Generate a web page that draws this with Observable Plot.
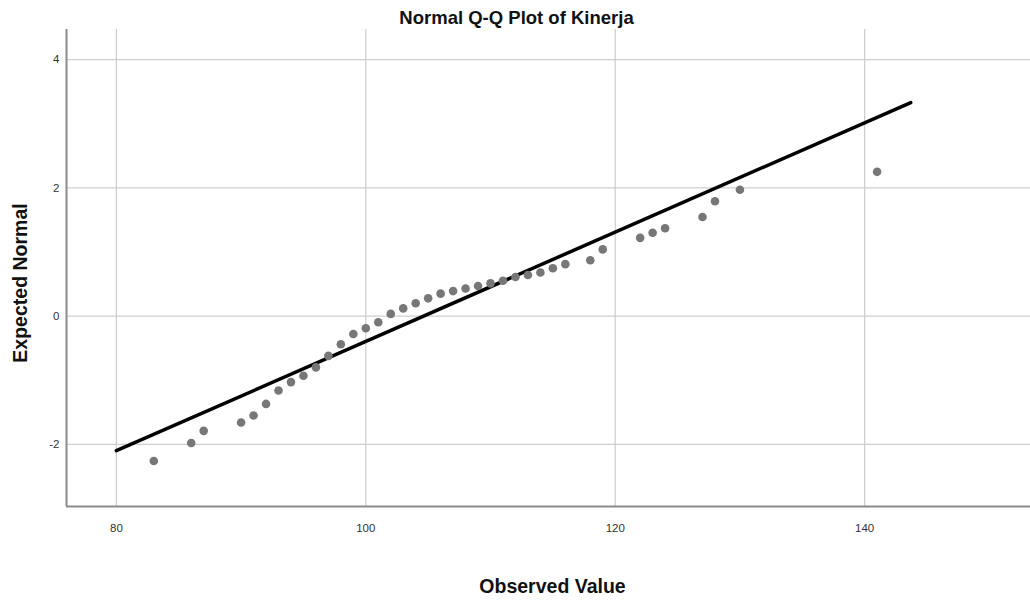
<!DOCTYPE html>
<html>
<head>
<meta charset="utf-8">
<script src="https://cdn.jsdelivr.net/npm/d3@7"></script>
<script src="https://cdn.jsdelivr.net/npm/@observablehq/plot@0.6"></script>
<style>
  body { margin: 0; background: #fff; }
  #chart svg { display: block; }
</style>
</head>
<body>
<div id="chart"></div>
<script>
const title = "Normal Q-Q Plot of Kinerja";
const xLabel = "Observed Value";
const yLabel = "Expected Normal";

const observed = [83, 86, 87, 90, 91, 92, 93, 94, 95, 96, 97, 98, 99, 100, 101, 102, 103, 104, 105, 106, 107, 108, 109, 110, 111, 112, 113, 114, 115, 116, 118, 119, 122, 123, 124, 127, 128, 130, 141];
const expected = [-2.26, -1.98, -1.79, -1.66, -1.55, -1.37, -1.16, -1.03, -0.93, -0.80, -0.62, -0.44, -0.28, -0.19, -0.097, 0.034, 0.12, 0.20, 0.277, 0.35, 0.39, 0.43, 0.47, 0.51, 0.55, 0.61, 0.64, 0.68, 0.745, 0.81, 0.87, 1.04, 1.22, 1.30, 1.37, 1.545, 1.79, 1.97, 2.25];

const refLineX = [80, 143.7];
const refLineY = [-2.1, 3.33];

const xTicks = [80, 100, 120, 140];
const yTicks = [-2, 0, 2, 4];

const points = observed.map((x, i) => ({x, y: expected[i]}));
const refLine = refLineX.map((x, i) => ({x, y: refLineY[i]}));

const xDomain = [76, 153.3];
const yDomain = [-2.97, 4.47];

const font = "'Liberation Sans', Arial, sans-serif";

const chart = Plot.plot({
  width: 1030,
  height: 600,
  marginLeft: 66,
  marginRight: 0,
  marginTop: 29,
  marginBottom: 94,
  style: { fontFamily: font, fontSize: "11.5px", color: "#333", background: "#fff" },
  x: { domain: xDomain, ticks: xTicks, label: null },
  y: { domain: yDomain, ticks: yTicks, label: null },
  marks: [
    Plot.gridX(xTicks, { stroke: "#cdcdcd", strokeOpacity: 1, strokeWidth: 1.2 }),
    Plot.gridY(yTicks, { stroke: "#cdcdcd", strokeOpacity: 1, strokeWidth: 1.2 }),
    Plot.axisX(xTicks, { tickSize: 0, tickPadding: 17, fontSize: 11.5, fill: "#333", tickFormat: d => String(d) }),
    Plot.axisY(yTicks, { tickSize: 0, tickPadding: 7, fontSize: 11.5, fill: "#333", tickFormat: d => String(d) }),
    Plot.ruleX([xDomain[0]], { stroke: "#8a8a8a", strokeWidth: 2 }),
    Plot.ruleY([yDomain[0]], { stroke: "#8a8a8a", strokeWidth: 2 }),
    Plot.line(refLine, { x: "x", y: "y", stroke: "#000", strokeWidth: 3.5 }),
    Plot.dot(points, { x: "x", y: "y", r: 4.3, fill: "#777", stroke: "none" }),
    Plot.text([title], { frameAnchor: "top", lineAnchor: "middle", textAnchor: "middle", dx: -32, dy: -11.8, fontSize: 18.5, fontWeight: "bold", fill: "#111" }),
    Plot.text([yLabel], { frameAnchor: "left", lineAnchor: "middle", textAnchor: "middle", dx: -46, dy: 15, rotate: -90, fontSize: 19.5, fontWeight: "bold", fill: "#111" }),
    Plot.text([xLabel], { frameAnchor: "bottom", lineAnchor: "middle", textAnchor: "middle", dx: 4, dy: 80, fontSize: 19.5, fontWeight: "bold", fill: "#111" })
  ]
});
document.getElementById("chart").appendChild(chart);
</script>
</body>
</html>
